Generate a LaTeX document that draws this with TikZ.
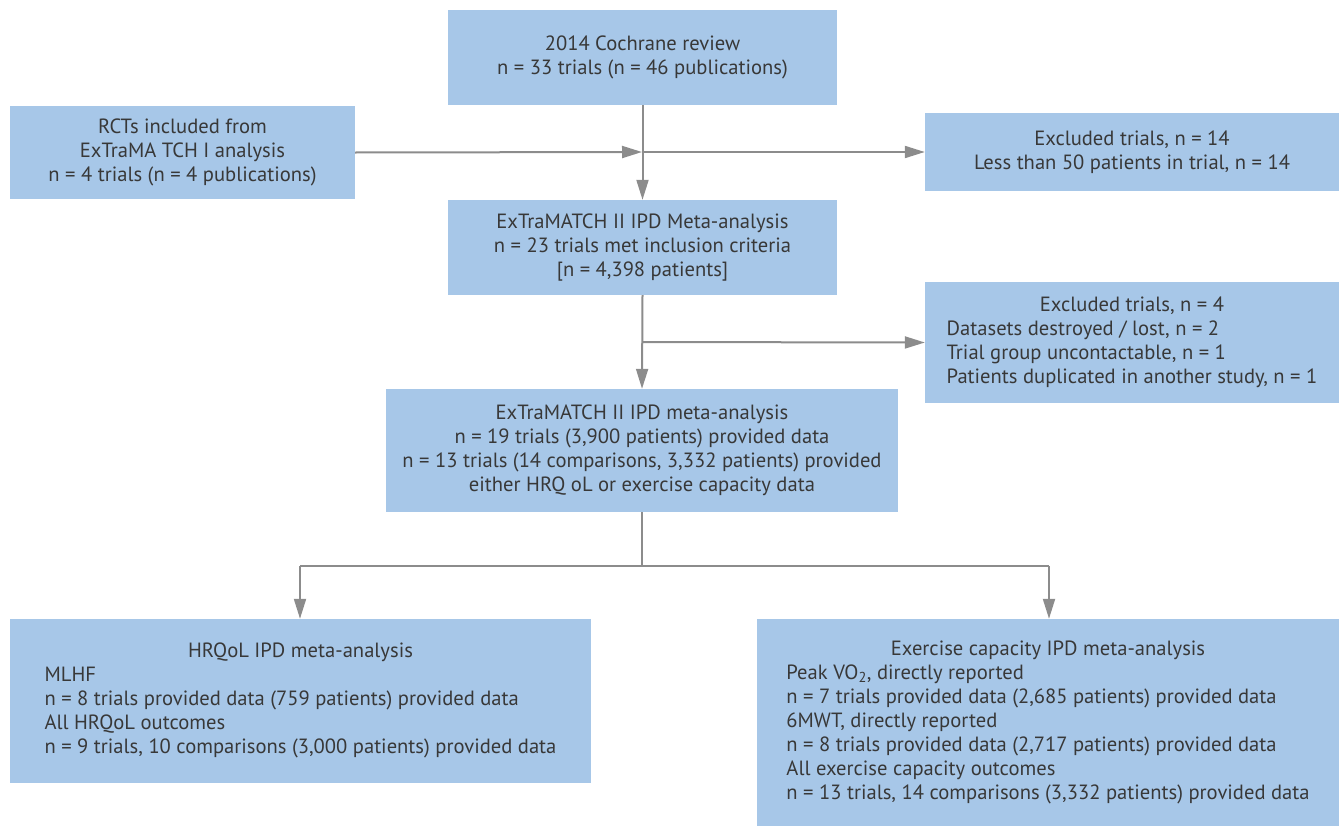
\documentclass[tikz,border=0pt]{standalone}
\usepackage{fontspec}
\setmainfont{PT Sans}
\usetikzlibrary{arrows.meta}
\definecolor{boxfill}{HTML}{A7C7E8}
\definecolor{linegray}{HTML}{8C8C8C}
\definecolor{txt}{HTML}{383838}
\tikzset{
  flowbox/.style={fill=boxfill, draw=none, inner sep=0pt, text=txt,
    font=\fontsize{20.6}{24}\selectfont, align=center},
  conn/.style={draw=linegray, line width=2pt},
  arr/.style={conn, -{Triangle[length=20pt,width=12pt]}}
}
\newcommand{\hdrblock}[2]{\begin{tabular}{@{}l@{}}\multicolumn{1}{@{}c@{}}{#1}\\#2\end{tabular}}
\begin{document}
\begin{tikzpicture}[x=1pt,y=-1pt]
\useasboundingbox (0,0) rectangle (1344,827);
\node[flowbox, minimum width=389pt, minimum height=95pt] (top) at (642.5,57.5)
  {2014 Cochrane review\\n = 33 trials (n = 46 publications)};
\node[flowbox, minimum width=345pt, minimum height=93pt] (rcts) at (182.5,152.5)
  {RCTs included from\\ExTraMA TCH I analysis\\n = 4 trials (n = 4 publications)};
\node[flowbox, minimum width=414pt, minimum height=78pt] (ex1) at (1132,152)
  {Excluded trials, n = 14\\Less than 50 patients in trial, n = 14};
\node[flowbox, minimum width=389pt, minimum height=95pt] (m1) at (642.5,247.5)
  {ExTraMATCH II IPD Meta-analysis\\n = 23 trials met inclusion criteria\\{[n = 4,398 patients]}};
\node[flowbox, minimum width=414pt, minimum height=121pt] (ex2) at (1132,342.5)
  {\hdrblock{Excluded trials, n = 4}{Datasets destroyed / lost, n = 2\\Trial group uncontactable, n = 1\\Patients duplicated in another study, n = 1}};
\node[flowbox, minimum width=512pt, minimum height=123pt] (m2) at (642,450.5)
  {ExTraMATCH II IPD meta-analysis\\n = 19 trials (3,900 patients) provided data\\n = 13 trials (14 comparisons, 3,332 patients) provided\\either HRQ oL or exercise capacity data};
\node[flowbox, minimum width=581pt, minimum height=164pt] (hq) at (300.5,701)
  {\hdrblock{HRQoL IPD meta-analysis}{MLHF\\n = 8 trials provided data (759 patients) provided data\\All HRQoL outcomes\\n = 9 trials, 10 comparisons (3,000 patients) provided data}};
\node[flowbox, minimum width=582pt, minimum height=207pt] (ec) at (1048,722.5)
  {\hdrblock{Exercise capacity IPD meta-analysis}{Peak VO\textsubscript{2}, directly reported\\n = 7 trials provided data (2,685 patients) provided data\\6MWT, directly reported\\n = 8 trials provided data (2,717 patients) provided data\\All exercise capacity outcomes\\n = 13 trials, 14 comparisons (3,332 patients) provided data}};

\coordinate (j1) at (642,152);
\coordinate (j2) at (642,342);
\coordinate (j3) at (642,566);
\coordinate (jl) at (300,566);
\coordinate (jr) at (1049,566);

\draw[arr] (top.south) -- (m1.north);
\draw[arr] (rcts.east) -- (j1);
\draw[arr] (j1) -- (ex1.west);
\draw[arr] (m1.south) -- (m2.north);
\draw[arr] (j2) -- (ex2.west);
\draw[conn] (m2.south) -- (j3);
\draw[conn] (jl) -- (jr);
\draw[arr] (jl) -- (jl |- hq.north);
\draw[arr] (jr) -- (jr |- ec.north);
\end{tikzpicture}
\end{document}
